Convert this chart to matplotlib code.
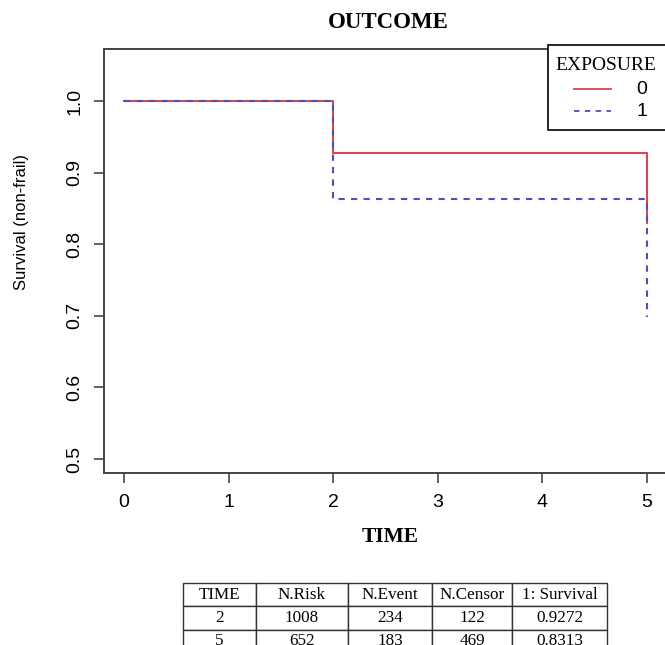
import matplotlib.pyplot as plt
from matplotlib.patches import Rectangle
from matplotlib.lines import Line2D

# data
times = [0, 2, 5]
surv_exp0 = [1.0, 0.927, 0.830]
surv_exp1 = [1.0, 0.863, 0.698]
groups = ["0", "1"]

table_cols = ["TIME", "N.Risk", "N.Event", "N.Censor", "1: Survival"]
table_rows = [
    ["2", "1008", "234", "122", "0.9272"],
    ["5", "652", "183", "469", "0.8313"],
]

W, H = 665, 645
red = "#d9474b"
blue = "#4a4fc4"
sans = ["Liberation Sans", "DejaVu Sans"]
serif = ["Liberation Serif", "DejaVu Serif"]


def fx(px):
    return px / W


def fy(py):
    return 1 - py / H


fig = plt.figure(figsize=(W / 100, H / 100), dpi=100)
ax = fig.add_axes([fx(104), fy(473), fx(667) - fx(104), fy(49) - fy(473)])

# step curves, last value drawn as a drop at the final time
ax.step(times, surv_exp0, where="post", color=red, lw=1.5)
ax.step(times, surv_exp1, where="post", color=blue, lw=1.5, ls=(0, (3, 3)))

ax.set_xlim(-0.19, 5.19)
ax.set_ylim(0.4804, 1.0726)
ax.set_xticks([0, 1, 2, 3, 4, 5])
ax.set_yticks([0.5, 0.6, 0.7, 0.8, 0.9, 1.0])
ax.set_yticklabels(["0.5", "0.6", "0.7", "0.8", "0.9", "1.0"], rotation=90, va="center")
ax.tick_params(direction="out", length=7, width=1.2, color="#444444", labelsize=14, pad=8)
for lab in ax.get_xticklabels() + ax.get_yticklabels():
    lab.set_family(sans)
for sp in ax.spines.values():
    sp.set_color("#444444")
    sp.set_linewidth(1.4)

fig.text(fx(388), fy(22), "OUTCOME", ha="center", va="center",
         family=serif, fontsize=16.5, fontweight="bold")
fig.text(fx(390), fy(537), "TIME", ha="center", va="center",
         family=serif, fontsize=15.5, fontweight="bold")
fig.text(fx(22), fy(222), "Survival (non-frail)", ha="center", va="center",
         rotation=90, family=sans, fontsize=12)

# legend box in the top right corner, partly cut by the figure edge
fig.patches.append(Rectangle((fx(548), fy(130)), fx(130), fy(45) - fy(130),
                             transform=fig.transFigure, facecolor="white",
                             edgecolor="black", lw=1.2, zorder=5))
fig.text(fx(555), fy(65), "EXPOSURE", ha="left", va="center",
         family=serif, fontsize=14, zorder=6)
leg_y = [89, 111]
leg_style = [(red, "-"), (blue, (0, (3, 3)))]
for g, yy, (c, ls) in zip(groups, leg_y, leg_style):
    fig.lines.append(Line2D([fx(574), fx(611)], [fy(yy), fy(yy)], color=c, ls=ls,
                            lw=1.3, transform=fig.transFigure, zorder=6))
    fig.text(fx(642), fy(yy), g, ha="center", va="center",
             family=sans, fontsize=14, zorder=6)

# summary table below the plot
tax = fig.add_axes([fx(183), fy(653), fx(607) - fx(183), fy(583) - fy(653)])
tax.axis("off")
tbl = tax.table(cellText=[table_cols] + table_rows, cellLoc="center",
                bbox=[0, 0, 1, 1],
                colWidths=[73, 92, 84, 80, 95])
tbl.auto_set_font_size(False)
for (r, c), cell in tbl.get_celld().items():
    cell.set_edgecolor("#333333")
    cell.set_linewidth(1.0)
    cell.get_text().set_family(serif)
    cell.get_text().set_fontsize(12.3)

fig.savefig("out.png", dpi=100)
